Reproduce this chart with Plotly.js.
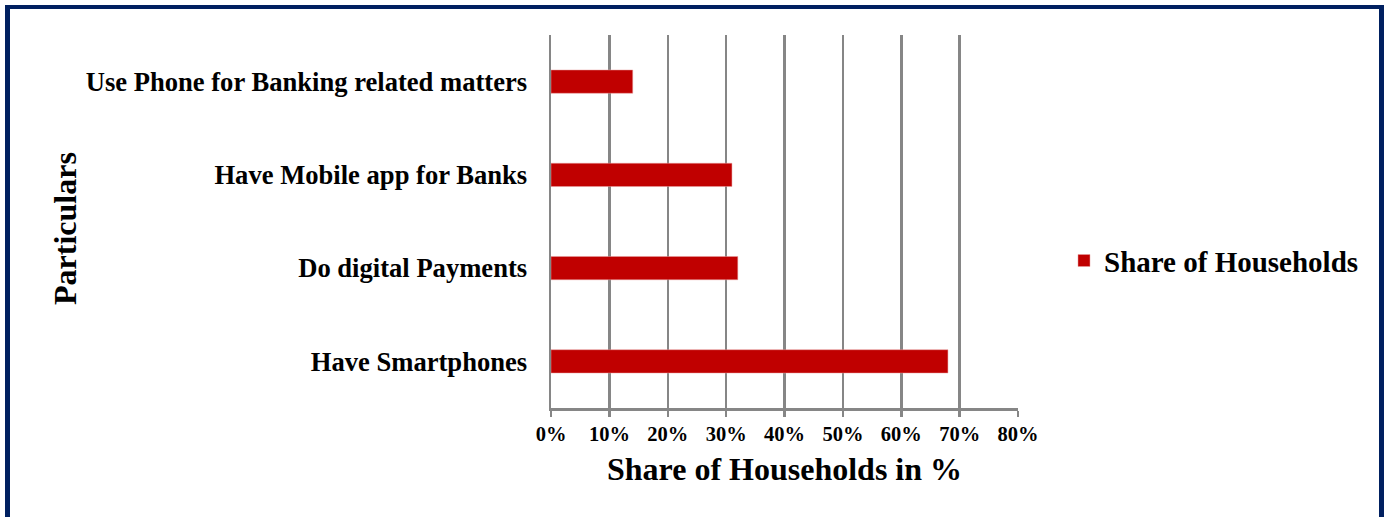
<!DOCTYPE html>
<html>
<head>
<meta charset="utf-8">
<script src="https://cdn.plot.ly/plotly-3.0.1.min.js"></script>
<style>
  html, body { margin: 0; padding: 0; background: #ffffff; }
  #wrap { position: relative; width: 1389px; height: 517px; overflow: hidden; }
  #chart { position: absolute; left: 0; top: 0; width: 1389px; height: 517px; }
  #frame { position: absolute; left: 5px; top: 5px; width: 1379px; height: 530px;
           box-sizing: border-box; border: 5px solid #002060; border-top-width: 4px; pointer-events: none; }
</style>
</head>
<body>
<div id="wrap">
  <div id="chart"></div>
  <div id="frame"></div>
</div>
<script>
const categories = [
  "Have Smartphones",
  "Do digital Payments",
  "Have Mobile app for Banks",
  "Use Phone for Banking related matters"
];
const shareValues = [0.68, 0.32, 0.31, 0.14];
const seriesName = "Share of Households";
const tickValues = [0, 0.1, 0.2, 0.3, 0.4, 0.5, 0.6, 0.7, 0.8];
const tickLabels = ["0%", "10%", "20%", "30%", "40%", "50%", "60%", "70%", "80%"];
const xTitle = "Share of Households in %";
const yTitle = "Particulars";

const serif = '"Liberation Serif", "Times New Roman", serif';

const trace = {
  type: 'bar',
  orientation: 'h',
  y: categories,
  x: shareValues,
  name: seriesName,
  marker: { color: '#c00000', line: { color: '#e8a0a0', width: 0.5 } },
  showlegend: true,
  hoverinfo: 'x+y'
};

const layout = {
  width: 1389,
  height: 517,
  margin: { l: 551, r: 371, t: 35, b: 109, pad: 0 },
  paper_bgcolor: '#ffffff',
  plot_bgcolor: '#ffffff',
  bargap: 0.75,
  font: { family: serif, color: '#000000' },
  xaxis: {
    range: [0, 0.8],
    tickvals: tickValues,
    ticktext: tickLabels,
    showgrid: true,
    gridcolor: '#868686',
    gridwidth: 2.5,
    showline: true,
    linecolor: '#868686',
    linewidth: 2.5,
    ticks: 'outside',
    ticklen: 6,
    tickwidth: 2.5,
    tickcolor: '#868686',
    zeroline: false,
    tickfont: { family: serif, size: 20.5, color: '#000000', weight: 'bold' },
    title: { text: '<b>' + xTitle + '</b>', font: { family: serif, size: 32, color: '#000000' }, standoff: 14 },
    fixedrange: true
  },
  yaxis: {
    showgrid: false,
    showline: true,
    linecolor: '#868686',
    linewidth: 2.5,
    ticks: '',
    ticklabelstandoff: 16,
    tickfont: { family: serif, size: 26.6, color: '#000000', weight: 'bold' },
    automargin: false,
    fixedrange: true
  },
  legend: {
    x: 1.0985, xanchor: 'left',
    y: 0.395, yanchor: 'middle',
    font: { family: serif, size: 29, color: '#000000', weight: 'bold' },
    itemwidth: 30,
    bgcolor: 'rgba(0,0,0,0)'
  },
  annotations: [{
    text: '<b>' + yTitle + '</b>',
    xref: 'paper', yref: 'paper',
    x: -1.0407, y: 0.4826,
    xanchor: 'center', yanchor: 'middle',
    textangle: -90,
    showarrow: false,
    font: { family: serif, size: 32, color: '#000000' }
  }]
};

Plotly.newPlot('chart', [trace], layout, { displayModeBar: false, staticPlot: true });
</script>
</body>
</html>
